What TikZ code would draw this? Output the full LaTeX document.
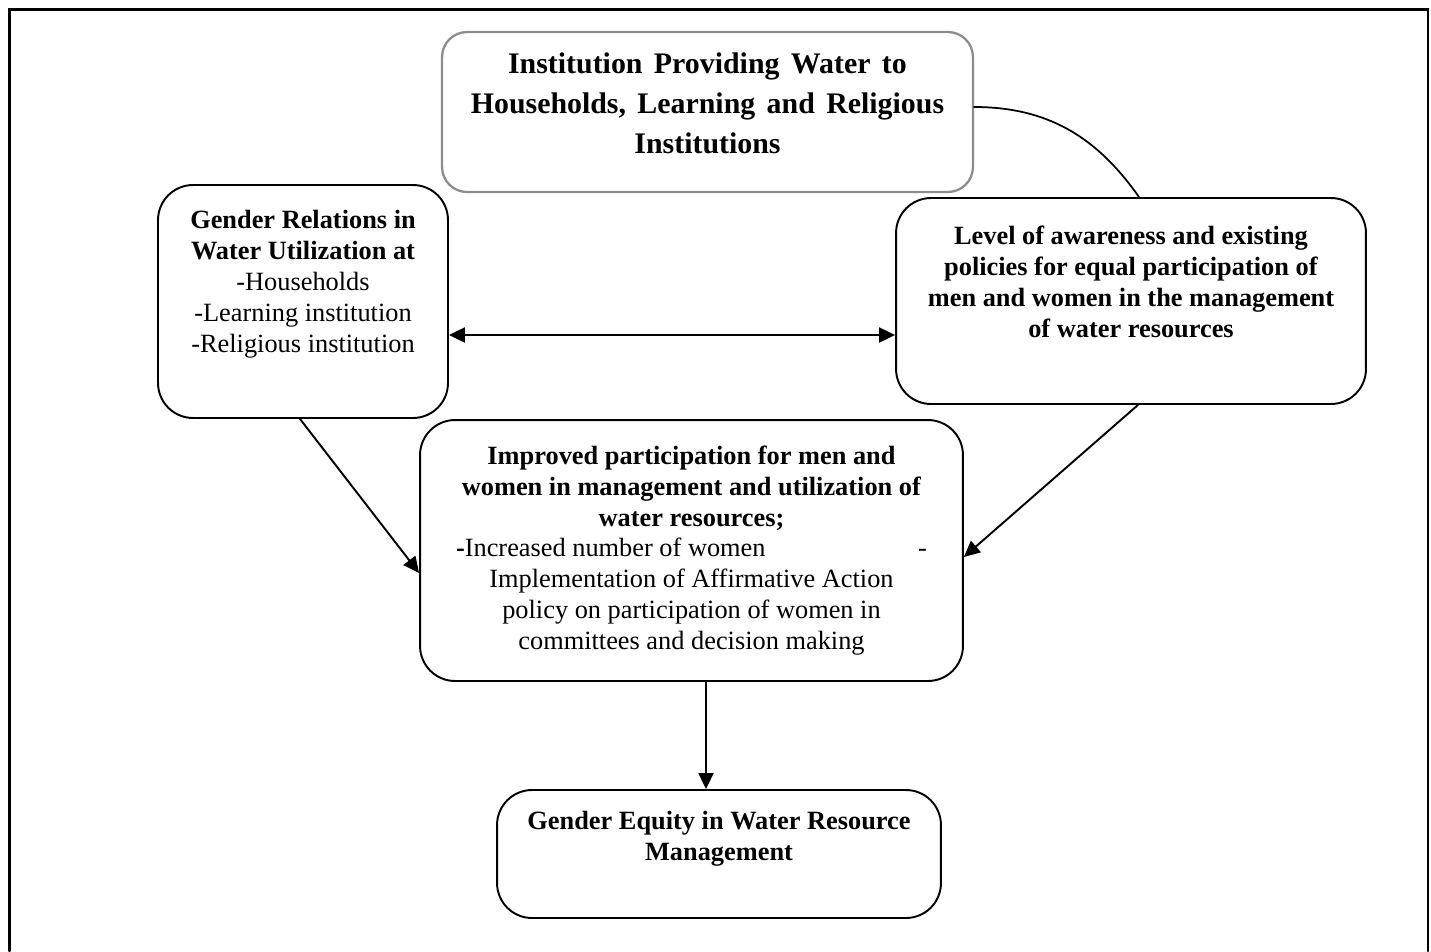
\documentclass[tikz,border=0pt]{standalone}
\usepackage{fontspec}
\setmainfont{Liberation Serif}
\usepackage{tikz}
\usetikzlibrary{arrows.meta,positioning}
\tikzset{frame/.style={rectangle,draw,rounded corners=0.7cm,line width=1.1pt,inner sep=0pt},headframe/.style={rectangle,draw=black!45,rounded corners=0.5cm,line width=1.3pt,inner sep=0pt},headtext/.style={align=center,inner sep=0pt,font={\fontsize{17}{22.7}\selectfont\bfseries\spaceskip=6.5pt\relax}},boxtext/.style={align=center,inner sep=0pt,font=\fontsize{15}{17.6}\selectfont},link/.style={-{Triangle[length=3.2mm,width=3mm]},line width=1.1pt},every picture/.style={line cap=round}}
\begin{document}
\begin{tikzpicture}[x=0.02cm,y=-0.02cm]
\useasboundingbox (0,0) rectangle (1431,951);
\draw[line width=1.3pt] (9.5,951) -- (9.5,9.5) -- (1428,9.5) -- (1428,951);
\node[headframe,minimum width=10.62cm,minimum height=3.2cm] (inst) at (707.5,112) {};
\node[headtext,below=0.44cm of inst.north] (instT) {Institution Providing Water to\\Households, Learning and Religious\\Institutions};
\node[frame,minimum width=5.8cm,minimum height=4.66cm] (rel) at (303,301.5) {};
\node[boxtext,below=0.52cm of rel.north] (relT) {\textbf{Gender Relations in}\\\textbf{Water Utilization at}\\-Households\\-Learning institution\\-Religious institution};
\node[frame,minimum width=9.4cm,minimum height=4.12cm] (aware) at (1131,301) {};
\node[boxtext,below=0.58cm of aware.north] (awareT) {\textbf{Level of awareness and existing}\\\textbf{policies for equal participation of}\\\textbf{men and women in the management}\\\textbf{of water resources}};
\node[frame,boxtext,minimum width=10.86cm,minimum height=5.22cm] (impr) at (691.5,550.5) {\textbf{Improved participation for men and}\\\textbf{women in management and utilization of}\\\textbf{water resources;}\\\makebox[9.42cm]{\textbf{-}Increased number of women\hfill-}\\Implementation of Affirmative Action\\policy on participation of women in\\committees and decision making};
\node[frame,minimum width=8.88cm,minimum height=2.56cm] (equity) at (719,854) {};
\node[boxtext,below=0.44cm of equity.north] (equityT) {\textbf{Gender Equity in Water Resource}\\\textbf{Management}};
% connectors
\draw[link,{Triangle[length=3.2mm,width=3mm]}-{Triangle[length=3.2mm,width=3mm]}] ([yshift=-0.67cm]rel.east) -- ([yshift=-0.68cm]aware.west);
\draw[link] ([xshift=-0.06cm]rel.south) -- ([yshift=-0.45cm]impr.west);
\draw[link] ([xshift=0.14cm]aware.south) -- ([yshift=-0.13cm]impr.east);
\draw[link] ([xshift=0.29cm]impr.south) -- ([xshift=0.29cm]impr.south |- equity.north);
\draw[line width=1pt] ([yshift=0.1cm]inst.east) to[out=0,in=125] ([xshift=0.16cm]aware.north);
\end{tikzpicture}
\end{document}
